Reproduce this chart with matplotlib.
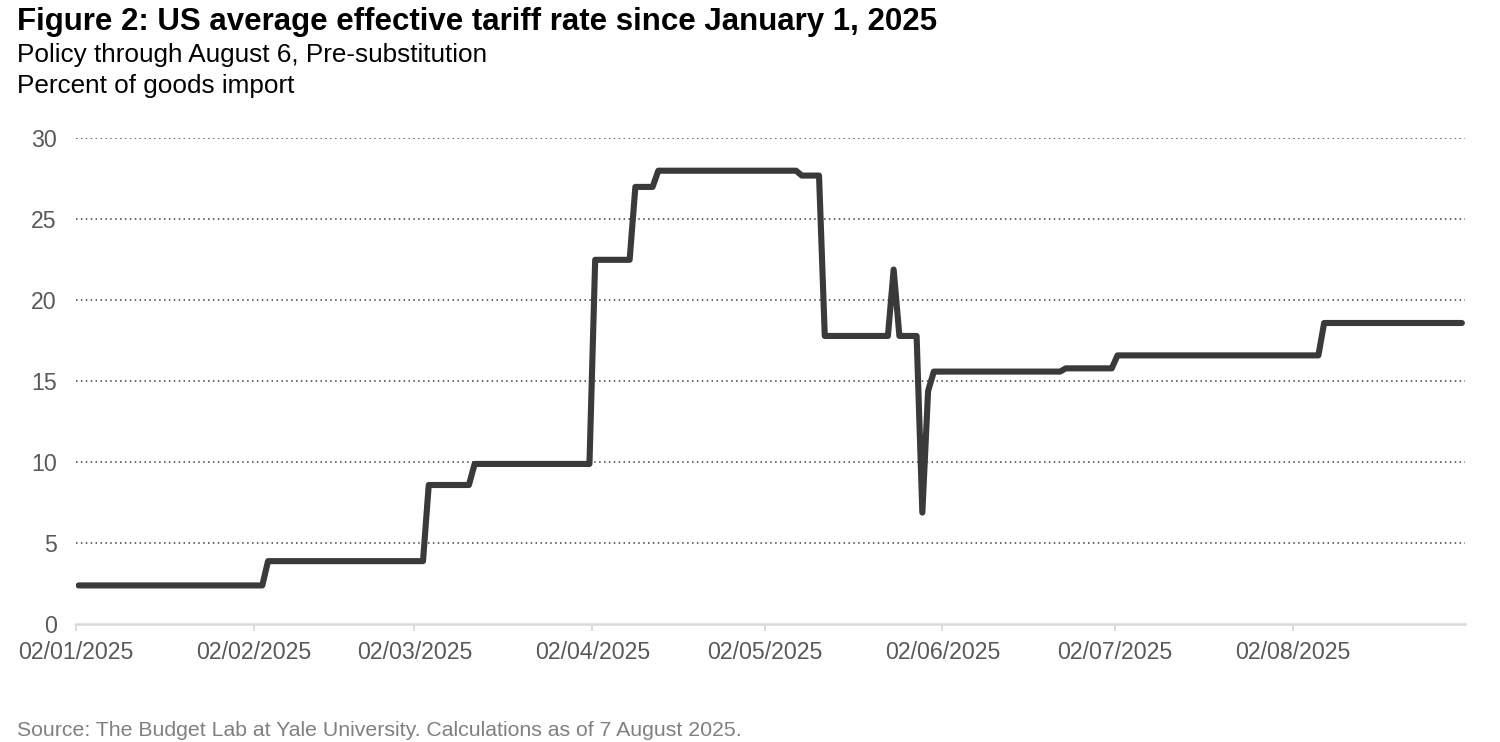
import numpy as np
import matplotlib.pyplot as plt
import matplotlib.dates as mdates

plt.rcParams['font.family'] = ['Liberation Sans', 'DejaVu Sans']

# breakpoints of the daily tariff series (value holds between points)
dates = np.array([
    '2025-01-02', '2025-02-03', '2025-02-04', '2025-03-03', '2025-03-04',
    '2025-03-11', '2025-03-12', '2025-04-01', '2025-04-02', '2025-04-08',
    '2025-04-09', '2025-04-12', '2025-04-13', '2025-05-07', '2025-05-08',
    '2025-05-11', '2025-05-12', '2025-05-23', '2025-05-24', '2025-05-25',
    '2025-05-28', '2025-05-29', '2025-05-30', '2025-05-31', '2025-06-22',
    '2025-06-23', '2025-07-01', '2025-07-02', '2025-08-06', '2025-08-07',
    '2025-08-31'], dtype='datetime64[D]')
rates = [2.4, 2.4, 3.9, 3.9, 8.6,
         8.6, 9.9, 9.9, 22.5, 22.5,
         27.0, 27.0, 28.0, 28.0, 27.7,
         27.7, 17.8, 17.8, 21.9, 17.8,
         17.8, 6.9, 14.4, 15.6, 15.6,
         15.8, 15.8, 16.6, 16.6, 18.6,
         18.6]

tick_dates = np.array(['2025-01-02', '2025-02-02', '2025-03-02', '2025-04-02',
                       '2025-05-02', '2025-06-02', '2025-07-02', '2025-08-02'],
                      dtype='datetime64[D]')
tick_labels = ['02/01/2025', '02/02/2025', '02/03/2025', '02/04/2025',
               '02/05/2025', '02/06/2025', '02/07/2025', '02/08/2025']
y_ticks = [0, 5, 10, 15, 20, 25, 30]

fig = plt.figure(figsize=(15, 7.42), dpi=100)
ax = fig.add_axes([0.0505, 0.1586, 0.926, 0.655])

x = mdates.date2num(dates)
ax.plot(x, rates, color='#3a3a3a', lw=4.4,
        solid_capstyle='round', solid_joinstyle='round', zorder=3)

# Excel-style date axis: ticks sit half a day before each point
ax.set_xlim(x[0] - 0.5, x[-1] + 0.5)
ax.set_xticks(mdates.date2num(tick_dates) - 0.5)
ax.set_xticklabels(tick_labels)
ax.set_ylim(0, 30)
ax.set_yticks(y_ticks)

for y in y_ticks[1:]:
    ax.axhline(y, color='#404040', lw=1.1, ls=(0, (1, 2.2)), zorder=1)

for s in ['top', 'right', 'left']:
    ax.spines[s].set_visible(False)
ax.spines['bottom'].set_color('#d9d9d9')
ax.spines['bottom'].set_linewidth(1.8)
ax.tick_params(axis='x', colors='#d9d9d9', length=5, width=1.3,
               labelcolor='#595959', labelsize=16.7, pad=7)
ax.tick_params(axis='y', length=0, labelcolor='#595959', labelsize=16.7, pad=13.5)

fig.text(0.0113, 0.971, 'Figure 2: US average effective tariff rate since January 1, 2025',
         fontsize=22.5, fontweight='bold', va='center', ha='left', color='black')
fig.text(0.0113, 0.926, 'Policy through August 6, Pre-substitution',
         fontsize=18.8, va='center', ha='left', color='black')
fig.text(0.0113, 0.884, 'Percent of goods import',
         fontsize=18.8, va='center', ha='left', color='black')
fig.text(0.0113, 0.016, 'Source: The Budget Lab at Yale University. Calculations as of 7 August 2025.',
         fontsize=15.3, va='center', ha='left', color='#808080')

fig.savefig('out.png', dpi=100)
